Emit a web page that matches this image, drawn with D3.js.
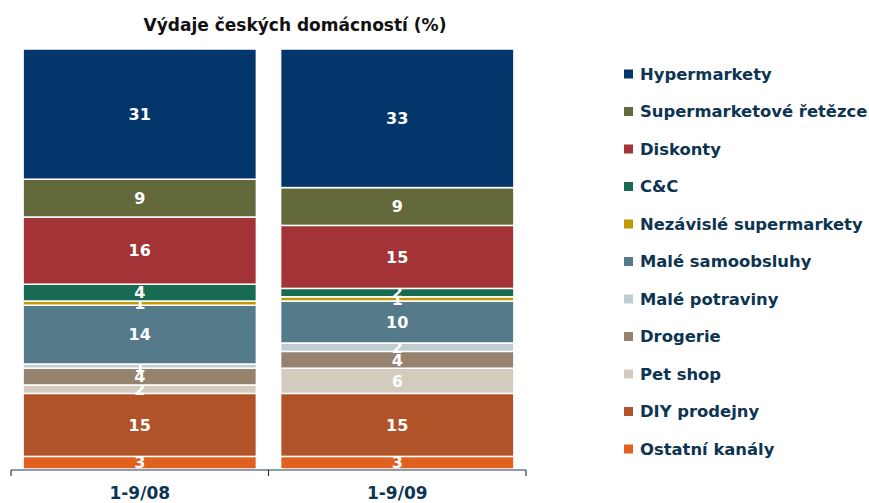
<!DOCTYPE html>
<html lang="cs">
<head>
<meta charset="UTF-8">
<title>Výdaje českých domácností (%)</title>
<style>
  body { margin: 0; padding: 0; background: #fff; }
  svg { display: block; font-family: "DejaVu Sans", Verdana, sans-serif; }
</style>
</head>
<body>
<script src="https://d3js.org/d3.v7.min.js"></script>
<script>
var periods = ["1-9/08", "1-9/09"];
var channels = ["Hypermarkety", "Supermarketové řetězce", "Diskonty", "C&C", "Nezávislé supermarkety",
  "Malé samoobsluhy", "Malé potraviny", "Drogerie", "Pet shop", "DIY prodejny", "Ostatní kanály"];
var share08 = [31, 9, 16, 4, 1, 14, 1, 4, 2, 15, 3];
var share09 = [33, 9, 15, 2, 1, 10, 2, 4, 6, 15, 3];
var colors = ["#03366b", "#64693c", "#a33336", "#176b52", "#bf9a05", "#557a8a",
  "#bfcdd2", "#958370", "#d3cbbe", "#b05328", "#e06020"];

var width = 869, height = 503;
var svg = d3.select("body").append("svg").attr("width", width).attr("height", height);

var x = d3.scaleBand().domain(periods).range([11, 526]).paddingInner(0.094).paddingOuter(0.047);
var y = d3.scaleLinear().domain([0, 100]).range([469, 49]);
var color = d3.scaleOrdinal().domain(channels).range(colors);

// rows for stacking: one object per period
var rows = periods.map(function (p, i) {
  var r = { period: p };
  var vals = i === 0 ? share08 : share09;
  channels.forEach(function (c, j) { r[c] = vals[j]; });
  return r;
});

// stack from bottom: last channel at bottom
var stack = d3.stack().keys(channels.slice().reverse());
var series = stack(rows);

var layer = svg.selectAll("g.layer")
  .data(series)
  .enter().append("g")
  .attr("class", "layer")
  .attr("fill", function (d) { return color(d.key); });

layer.selectAll("rect")
  .data(function (d) { return d; })
  .enter().append("rect")
  .attr("x", function (d) { return x(d.data.period); })
  .attr("width", x.bandwidth())
  .attr("y", function (d) { return y(d[1]); })
  .attr("height", function (d) { return y(d[0]) - y(d[1]); })
  .attr("stroke", "#fff")
  .attr("stroke-width", 1.5);

layer.selectAll("text")
  .data(function (d) { return d; })
  .enter().append("text")
  .attr("x", function (d) { return x(d.data.period) + x.bandwidth() / 2; })
  .attr("y", function (d) { return (y(d[0]) + y(d[1])) / 2; })
  .attr("dy", "0.36em")
  .attr("text-anchor", "middle")
  .attr("fill", "#fff")
  .attr("font-size", 16)
  .attr("font-weight", "bold")
  .text(function (d) { return d[1] - d[0]; });

// category axis
var axis = svg.append("g").attr("transform", "translate(0,470)");
axis.append("line").attr("x1", 11).attr("x2", 526).attr("stroke", "#1d3d58").attr("stroke-width", 1.2);
var edges = [11].concat(periods.map(function (p) { return x(p) + x.bandwidth() + x.step() * x.paddingInner() / 2; }));
edges[edges.length - 1] = 526;
axis.selectAll("line.tick").data(edges).enter().append("line")
  .attr("class", "tick")
  .attr("x1", function (d) { return d; }).attr("x2", function (d) { return d; })
  .attr("y1", 0).attr("y2", 6)
  .attr("stroke", "#1d3d58").attr("stroke-width", 1.2);
axis.selectAll("text").data(periods).enter().append("text")
  .attr("x", function (d) { return x(d) + x.bandwidth() / 2; })
  .attr("y", 29)
  .attr("text-anchor", "middle")
  .attr("fill", "#0d3450")
  .attr("font-size", 17)
  .attr("font-weight", "bold")
  .text(function (d) { return d; });

// title
svg.append("text")
  .attr("x", 295).attr("y", 31)
  .attr("text-anchor", "middle")
  .attr("fill", "#111")
  .attr("font-size", 17)
  .attr("font-weight", "bold")
  .text("Výdaje českých domácností (%)");

// legend
var legend = svg.selectAll("g.legend")
  .data(channels)
  .enter().append("g")
  .attr("class", "legend")
  .attr("transform", function (d, i) { return "translate(624," + (74 + i * 37.5) + ")"; });
legend.append("rect").attr("x", 0).attr("y", -4.5).attr("width", 9).attr("height", 9)
  .attr("fill", function (d) { return color(d); });
legend.append("text").attr("x", 16).attr("dy", "0.36em")
  .attr("fill", "#0d3450")
  .attr("font-size", 16.4)
  .attr("font-weight", "bold")
  .text(function (d) { return d; });
</script>
</body>
</html>
